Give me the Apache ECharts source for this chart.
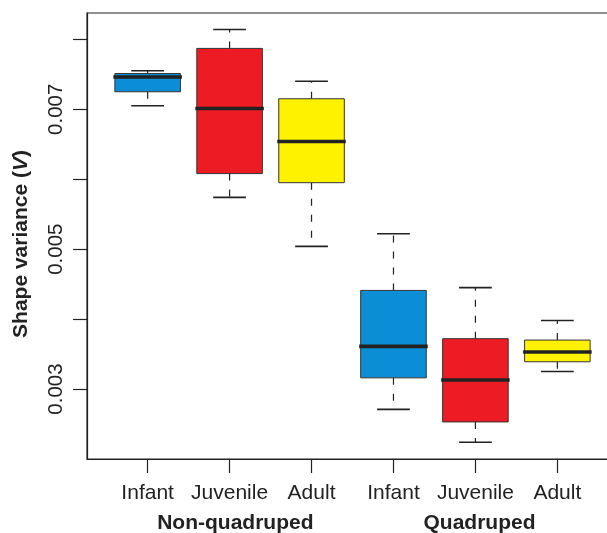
<!DOCTYPE html>
<html>
<head>
<meta charset="utf-8">
<script src="https://cdn.jsdelivr.net/npm/echarts@6/dist/echarts.min.js"></script>
<style>
  html, body { margin: 0; padding: 0; background: #fff; }
  #chart { width: 607px; height: 533px; }
</style>
</head>
<body>
<div id="chart"></div>
<script>
// ---- data ----
const positions   = [1, 2, 3, 4, 5, 6];
const ageLabels   = ['Infant', 'Juvenile', 'Adult', 'Infant', 'Juvenile', 'Adult'];
const groupLabels = ['Non-quadruped', 'Quadruped'];
const groupAt     = [2.07, 5.05];
const whiskerLow  = [0.00705, 0.00574, 0.00504, 0.00271, 0.00224, 0.00325];
const lowerQ      = [0.00725, 0.00608, 0.00595, 0.00316, 0.00253, 0.00339];
const medians     = [0.00746, 0.00701, 0.00654, 0.00361, 0.00313, 0.00353];
const upperQ      = [0.00751, 0.00787, 0.00715, 0.00441, 0.00372, 0.00370];
const whiskerHigh = [0.00755, 0.00814, 0.00740, 0.00522, 0.00445, 0.00398];
const yTicks      = [0.003, 0.004, 0.005, 0.006, 0.007, 0.008];
const yLabels     = [0.003, 0.005, 0.007];

const fills = ['#0b8ed6', '#ed1c24', '#fff200', '#0b8ed6', '#ed1c24', '#fff200'];
const INK = '#222222';
const FONT = "'Liberation Sans', Arial, Helvetica, sans-serif";

const boxData = positions.map((p, i) =>
  [p, whiskerLow[i], lowerQ[i], medians[i], upperQ[i], whiskerHigh[i], i]);

const chart = echarts.init(document.getElementById('chart'), null, { renderer: 'canvas' });

chart.setOption({
  animation: false,
  backgroundColor: '#ffffff',
  textStyle: { fontFamily: FONT, color: INK },
  grid: {
    left: 87, top: 13, width: 531, height: 446,
    show: true, borderColor: INK, borderWidth: 1.2, backgroundColor: 'transparent',
    containLabel: false, outerBoundsMode: 'none'
  },
  xAxis: [{
    type: 'value', min: 0.26, max: 6.74,
    axisLine: { show: true, onZero: false, lineStyle: { color: INK, width: 1.2 } },
    axisTick: { show: true, customValues: positions, length: 14, lineStyle: { color: INK, width: 1.2 } },
    axisLabel: {
      customValues: positions, fontSize: 21, color: INK, margin: 24, fontFamily: FONT,
      formatter: v => ageLabels[Math.round(v) - 1] || ''
    },
    splitLine: { show: false }
  }, {
    type: 'value', min: 0.26, max: 6.74, position: 'bottom',
    axisLine: { show: false }, axisTick: { show: false },
    axisLabel: {
      customValues: groupAt, fontSize: 21, fontWeight: 'bold', color: INK, margin: 54, fontFamily: FONT,
      formatter: v => groupLabels[groupAt.indexOf(v)] || ''
    },
    splitLine: { show: false }
  }],
  yAxis: {
    type: 'value', min: 0.002, max: 0.008376,
    axisLine: { show: true, lineStyle: { color: INK, width: 1.2 } },
    axisTick: { show: true, customValues: yTicks, length: 14, lineStyle: { color: INK, width: 1.2 } },
    axisLabel: {
      customValues: yLabels, rotate: 90, fontSize: 20.5, color: INK, margin: 20, fontFamily: FONT,
      formatter: v => v.toFixed(3)
    },
    splitLine: { show: false },
    name: '{b|Shape variance (}{i|V}{b|)}',
    nameLocation: 'middle', nameGap: 55,
    nameTextStyle: {
      padding: [0, 16, 0, 0],
      rich: {
        b: { fontSize: 21, fontWeight: 'bold', color: INK, fontFamily: FONT },
        i: { fontSize: 21, fontWeight: 'bold', fontStyle: 'italic', color: INK, fontFamily: FONT }
      }
    }
  },
  series: [{
    type: 'custom',
    xAxisIndex: 0, yAxisIndex: 0,
    data: boxData,
    encode: { x: 0, y: [1, 2, 3, 4, 5] },
    renderItem: function (params, api) {
      const x = api.value(0);
      const idx = api.value(6);
      const pLo = api.coord([x, api.value(1)]);
      const pQ1 = api.coord([x, api.value(2)]);
      const pMd = api.coord([x, api.value(3)]);
      const pQ3 = api.coord([x, api.value(4)]);
      const pHi = api.coord([x, api.value(5)]);
      const half = api.size([0.4, 0])[0];
      const cap = api.size([0.2, 0])[0];
      const cx = pMd[0];
      return {
        type: 'group',
        children: [
          { type: 'line', shape: { x1: cx, y1: pQ3[1], x2: cx, y2: pHi[1] },
            style: { stroke: INK, lineWidth: 1.2, lineDash: [7, 9] } },
          { type: 'line', shape: { x1: cx, y1: pQ1[1], x2: cx, y2: pLo[1] },
            style: { stroke: INK, lineWidth: 1.2, lineDash: [7, 9] } },
          { type: 'line', shape: { x1: cx - cap, y1: pHi[1], x2: cx + cap, y2: pHi[1] },
            style: { stroke: INK, lineWidth: 1.6 } },
          { type: 'line', shape: { x1: cx - cap, y1: pLo[1], x2: cx + cap, y2: pLo[1] },
            style: { stroke: INK, lineWidth: 1.6 } },
          { type: 'rect', shape: { x: cx - half, y: pQ3[1], width: 2 * half, height: pQ1[1] - pQ3[1] },
            style: { fill: fills[idx], stroke: '#333333', lineWidth: 1 } },
          { type: 'line', shape: { x1: cx - half - 1.5, y1: pMd[1], x2: cx + half + 1.5, y2: pMd[1] },
            style: { stroke: INK, lineWidth: 3.6 } }
        ]
      };
    }
  }]
});
</script>
</body>
</html>
